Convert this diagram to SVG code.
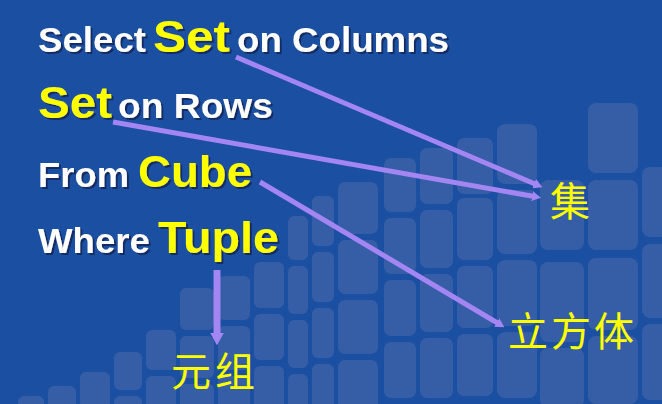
<svg xmlns="http://www.w3.org/2000/svg" width="662" height="404" viewBox="0 0 662 404">
<defs>
<style>
.bg{fill:#1b4fa1}
.tile{fill:#365ea6}
.w{font-family:"Liberation Sans",Arial,sans-serif;font-weight:bold;font-size:35px;fill:#ffffff}
.y{font-family:"Liberation Sans",Arial,sans-serif;font-weight:bold;font-size:44px;fill:#ffff00}
.cn{font-family:"Noto Sans CJK SC",sans-serif;font-size:40px;fill:#ffff00}
.arrow{stroke:#a386f2;fill:none;stroke-linecap:butt}
</style>
<filter id="sh" x="-5%" y="-20%" width="115%" height="150%">
<feDropShadow dx="2" dy="2" stdDeviation="0.6" flood-color="#0a1d48" flood-opacity="0.7"/>
</filter>
<marker id="ah" viewBox="0 0 10 11" refX="1" refY="5.5" markerWidth="1.8" markerHeight="2.2" markerUnits="strokeWidth" orient="auto">
<path d="M0,0 L10,5.5 L0,11 z" fill="#a386f2"/>
</marker>
</defs>
<rect class="bg" x="0" y="0" width="662" height="404"/>
<g id="tiles">
<rect class="tile" x="18" y="396" width="26" height="34" rx="6"/>
<rect class="tile" x="48" y="386" width="28" height="34" rx="6"/>
<rect class="tile" x="80" y="372" width="30" height="36" rx="6"/>
<rect class="tile" x="114" y="352" width="28" height="38" rx="6"/>
<rect class="tile" x="114" y="396" width="28" height="38" rx="6"/>
<rect class="tile" x="146" y="330" width="30" height="40" rx="6"/>
<rect class="tile" x="146" y="376" width="30" height="40" rx="6"/>
<rect class="tile" x="180" y="288" width="34" height="42" rx="6"/>
<rect class="tile" x="180" y="336" width="34" height="42" rx="6"/>
<rect class="tile" x="180" y="384" width="34" height="42" rx="6"/>
<rect class="tile" x="218" y="276" width="32" height="44" rx="6"/>
<rect class="tile" x="218" y="326" width="32" height="44" rx="6"/>
<rect class="tile" x="218" y="376" width="32" height="44" rx="6"/>
<rect class="tile" x="254" y="262" width="30" height="46" rx="6"/>
<rect class="tile" x="254" y="314" width="30" height="46" rx="6"/>
<rect class="tile" x="254" y="366" width="30" height="46" rx="6"/>
<rect class="tile" x="288" y="216" width="20" height="44" rx="6"/>
<rect class="tile" x="288" y="266" width="20" height="48" rx="6"/>
<rect class="tile" x="288" y="320" width="20" height="48" rx="6"/>
<rect class="tile" x="288" y="374" width="20" height="48" rx="6"/>
<rect class="tile" x="312" y="196" width="22" height="50" rx="6"/>
<rect class="tile" x="312" y="252" width="22" height="50" rx="6"/>
<rect class="tile" x="312" y="308" width="22" height="50" rx="6"/>
<rect class="tile" x="312" y="364" width="22" height="50" rx="6"/>
<rect class="tile" x="338" y="182" width="40" height="52" rx="7"/>
<rect class="tile" x="338" y="240" width="40" height="54" rx="7"/>
<rect class="tile" x="338" y="300" width="40" height="54" rx="7"/>
<rect class="tile" x="338" y="360" width="40" height="54" rx="7"/>
<rect class="tile" x="384" y="158" width="32" height="54" rx="7"/>
<rect class="tile" x="384" y="218" width="32" height="56" rx="7"/>
<rect class="tile" x="384" y="280" width="32" height="56" rx="7"/>
<rect class="tile" x="384" y="342" width="32" height="56" rx="7"/>
<rect class="tile" x="420" y="148" width="33" height="56" rx="7"/>
<rect class="tile" x="420" y="210" width="33" height="58" rx="7"/>
<rect class="tile" x="420" y="274" width="33" height="58" rx="7"/>
<rect class="tile" x="420" y="338" width="33" height="60" rx="7"/>
<rect class="tile" x="457" y="138" width="36" height="56" rx="7"/>
<rect class="tile" x="457" y="198" width="36" height="62" rx="7"/>
<rect class="tile" x="457" y="266" width="36" height="62" rx="7"/>
<rect class="tile" x="457" y="334" width="36" height="62" rx="7"/>
<rect class="tile" x="497" y="124" width="40" height="60" rx="8"/>
<rect class="tile" x="497" y="190" width="40" height="64" rx="8"/>
<rect class="tile" x="497" y="260" width="40" height="66" rx="8"/>
<rect class="tile" x="497" y="332" width="40" height="66" rx="8"/>
<rect class="tile" x="540" y="180" width="44" height="70" rx="8"/>
<rect class="tile" x="540" y="262" width="44" height="80" rx="8"/>
<rect class="tile" x="540" y="348" width="44" height="60" rx="8"/>
<rect class="tile" x="588" y="103" width="50" height="70" rx="8"/>
<rect class="tile" x="588" y="180" width="50" height="70" rx="8"/>
<rect class="tile" x="588" y="258" width="50" height="72" rx="8"/>
<rect class="tile" x="588" y="336" width="50" height="68" rx="8"/>
<rect class="tile" x="642" y="167" width="30" height="70" rx="8"/>
<rect class="tile" x="642" y="244" width="30" height="74" rx="8"/>
<rect class="tile" x="642" y="324" width="30" height="76" rx="8"/>
</g>
<g id="connectors">
<line class="arrow" x1="236" y1="57" x2="535" y2="184" stroke-width="5" marker-end="url(#ah)"/>
<line class="arrow" x1="113" y1="122" x2="533" y2="196.3" stroke-width="5" marker-end="url(#ah)"/>
<line class="arrow" x1="260" y1="182" x2="497.5" y2="323" stroke-width="5" marker-end="url(#ah)"/>
<line class="arrow" x1="217" y1="270" x2="217" y2="334" stroke-width="7" marker-end="url(#ah)"/>
</g>
<g id="line-select" filter="url(#sh)">
<text class="w" x="38" y="52" textLength="108" lengthAdjust="spacingAndGlyphs">Select</text>
<text class="y" x="153" y="52" textLength="77" lengthAdjust="spacingAndGlyphs">Set</text>
<text class="w" x="237" y="52" textLength="212" lengthAdjust="spacingAndGlyphs">on Columns</text>
</g>
<g id="line-rows" filter="url(#sh)">
<text class="y" x="38" y="118" textLength="74" lengthAdjust="spacingAndGlyphs">Set</text>
<text class="w" x="118" y="118" textLength="155" lengthAdjust="spacingAndGlyphs">on Rows</text>
</g>
<g id="line-from" filter="url(#sh)">
<text class="w" x="38" y="187" textLength="91" lengthAdjust="spacingAndGlyphs">From</text>
<text class="y" x="138" y="187" textLength="114" lengthAdjust="spacingAndGlyphs">Cube</text>
</g>
<g id="line-where" filter="url(#sh)">
<text class="w" x="38" y="253" textLength="112" lengthAdjust="spacingAndGlyphs">Where</text>
<text class="y" x="158" y="253" textLength="121" lengthAdjust="spacingAndGlyphs">Tuple</text>
</g>
<g id="label-ji">
<text class="cn" x="550" y="216">集</text>
</g>
<g id="label-lifangti">
<text class="cn" x="508" y="346" textLength="126">立方体</text>
</g>
<g id="label-yuanzu">
<text class="cn" x="171" y="386" textLength="84">元组</text>
</g>
</svg>
